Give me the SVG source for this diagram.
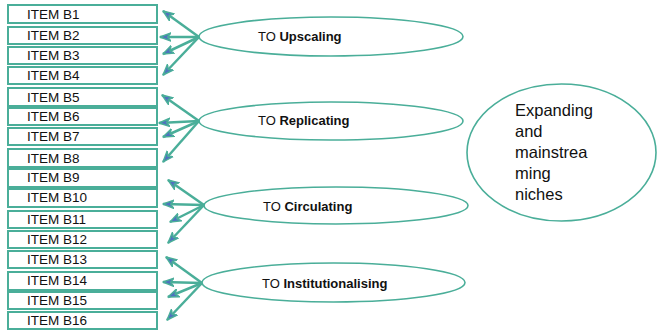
<svg xmlns="http://www.w3.org/2000/svg" width="657" height="330" viewBox="0 0 657 330">
<style>
.box{fill:#fff;stroke:#4aae99;stroke-width:2}
.it{font-family:"Liberation Sans",Arial,sans-serif;font-size:13.5px;fill:#111}
.ell{fill:#fff;stroke:#4aae99;stroke-width:1.6}
.lab{font-family:"Liberation Sans",Arial,sans-serif;font-size:13px;fill:#111}
.lab tspan.b{font-weight:bold}
.big{font-family:"Liberation Sans",Arial,sans-serif;font-size:16.5px;fill:#111}
.con line{stroke:#4aae99;stroke-width:2.5;marker-end:url(#ah)}
</style>
<defs>
<marker id="ah" viewBox="0 0 12 10" refX="11" refY="5" markerWidth="12" markerHeight="10" markerUnits="userSpaceOnUse" orient="auto">
<path d="M0,0.8 L11,5 L0,9.2 L3.5,5 Z" fill="#4f70c0" stroke="#4aae99" stroke-width="1.4" stroke-linejoin="round"/>
</marker>
</defs>
<rect width="657" height="330" fill="#fff"/>
<g id="item-b1"><rect class="box" x="8" y="5" width="149" height="18"/><text class="it" x="27" y="19">ITEM B1</text></g>
<g id="item-b2"><rect class="box" x="8" y="27" width="149" height="17"/><text class="it" x="27" y="40">ITEM B2</text></g>
<g id="item-b3"><rect class="box" x="8" y="47" width="149" height="17"/><text class="it" x="27" y="60">ITEM B3</text></g>
<g id="item-b4"><rect class="box" x="8" y="67" width="149" height="17"/><text class="it" x="27" y="80">ITEM B4</text></g>
<g id="item-b5"><rect class="box" x="8" y="88" width="149" height="18"/><text class="it" x="27" y="102">ITEM B5</text></g>
<g id="item-b6"><rect class="box" x="8" y="108" width="149" height="17"/><text class="it" x="27" y="121">ITEM B6</text></g>
<g id="item-b7"><rect class="box" x="8" y="128" width="149" height="17"/><text class="it" x="27" y="141">ITEM B7</text></g>
<g id="item-b8"><rect class="box" x="8" y="149" width="149" height="18"/><text class="it" x="27" y="163">ITEM B8</text></g>
<g id="item-b9"><rect class="box" x="8" y="169" width="149" height="18"/><text class="it" x="27" y="182">ITEM B9</text></g>
<g id="item-b10"><rect class="box" x="8" y="189" width="149" height="18"/><text class="it" x="27" y="202">ITEM B10</text></g>
<g id="item-b11"><rect class="box" x="8" y="211" width="149" height="17"/><text class="it" x="27" y="224">ITEM B11</text></g>
<g id="item-b12"><rect class="box" x="8" y="231" width="149" height="17"/><text class="it" x="27" y="244">ITEM B12</text></g>
<g id="item-b13"><rect class="box" x="8" y="251" width="149" height="17"/><text class="it" x="27" y="264">ITEM B13</text></g>
<g id="item-b14"><rect class="box" x="8" y="272" width="149" height="18"/><text class="it" x="27" y="285">ITEM B14</text></g>
<g id="item-b15"><rect class="box" x="8" y="292" width="149" height="17"/><text class="it" x="27" y="305">ITEM B15</text></g>
<g id="item-b16"><rect class="box" x="8" y="312" width="149" height="17"/><text class="it" x="27" y="325">ITEM B16</text></g>
<g id="upscaling"><ellipse class="ell" cx="331" cy="36.5" rx="132" ry="19.5"/><text class="lab" x="258" y="41">TO <tspan class="b">Upscaling</tspan></text></g>
<g id="replicating"><ellipse class="ell" cx="331" cy="121" rx="132" ry="19"/><text class="lab" x="258" y="125">TO <tspan class="b">Replicating</tspan></text></g>
<g id="circulating"><ellipse class="ell" cx="336" cy="205.5" rx="132" ry="18.5"/><text class="lab" x="263" y="211">TO <tspan class="b">Circulating</tspan></text></g>
<g id="institutionalising"><ellipse class="ell" cx="333.5" cy="282.5" rx="131.5" ry="19.5"/><text class="lab" x="262" y="288">TO <tspan class="b">Institutionalising</tspan></text></g>
<g id="expanding"><ellipse class="ell" cx="561.5" cy="152.5" rx="94.5" ry="68.5"/>
<text class="big" x="515" y="116">Expanding</text>
<text class="big" x="515" y="137">and</text>
<text class="big" x="515" y="158">mainstrea</text>
<text class="big" x="515" y="179">ming</text>
<text class="big" x="515" y="200">niches</text></g>
<g id="connectors" class="con">
<line x1="199" y1="37" x2="163" y2="11"/>
<line x1="199" y1="37" x2="160" y2="37"/>
<line x1="199" y1="37" x2="163" y2="54"/>
<line x1="199" y1="37" x2="163" y2="75"/>
<line x1="199" y1="121" x2="162" y2="95"/>
<line x1="199" y1="121" x2="159" y2="123"/>
<line x1="199" y1="121" x2="163" y2="137"/>
<line x1="199" y1="121" x2="163" y2="162"/>
<line x1="204" y1="205" x2="168" y2="180"/>
<line x1="204" y1="205" x2="163" y2="204"/>
<line x1="204" y1="205" x2="170" y2="222"/>
<line x1="204" y1="205" x2="168" y2="243"/>
<line x1="202" y1="283" x2="166" y2="257"/>
<line x1="202" y1="283" x2="163" y2="282"/>
<line x1="202" y1="283" x2="168" y2="297"/>
<line x1="202" y1="283" x2="167" y2="320"/>
</g>
</svg>
